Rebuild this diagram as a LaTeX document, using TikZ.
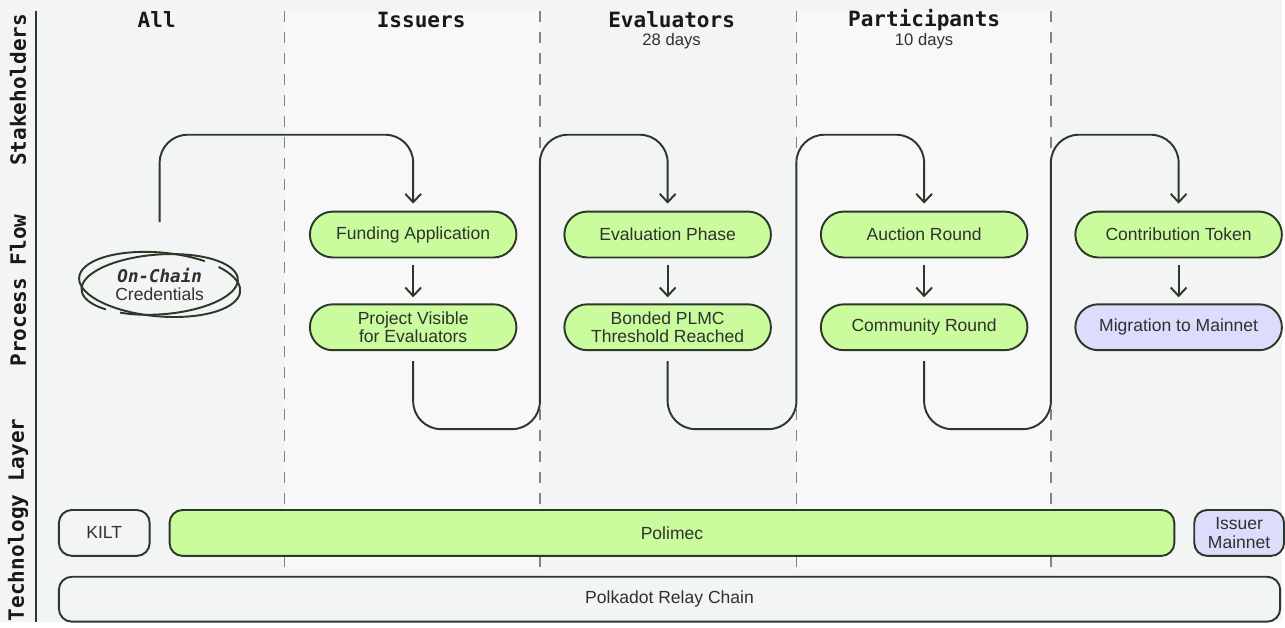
\documentclass[tikz,border=0pt]{standalone}
\usepackage{fontspec}
\setmainfont{Liberation Sans}
\setmonofont{DejaVu Sans Mono}
\usetikzlibrary{arrows.meta,positioning}

\definecolor{paper}{RGB}{243,244,244}
\definecolor{lane}{RGB}{248,248,248}
\definecolor{ink}{RGB}{44,56,40}
\definecolor{lime}{RGB}{202,252,158}
\definecolor{lilac}{RGB}{220,220,252}
\definecolor{rule}{RGB}{128,134,124}
\definecolor{word}{RGB}{46,50,45}

\tikzset{
  stage/.style={draw=ink,line width=1.1pt,fill=lime,rounded corners=0.46cm,
    minimum width=4.14cm,minimum height=0.92cm,align=center,text=word,
    font=\fontsize{10}{10.8}\selectfont},
  chain/.style={draw=ink,line width=1.1pt,rounded corners=0.26cm,
    minimum height=0.92cm,align=center,text=word,
    font=\fontsize{10}{10.8}\selectfont},
  flow/.style={ink,line width=1.1pt,rounded corners=0.56cm,
    -{Straight Barb[length=4.8pt,width=9pt]}},
  head/.style={text=black!90,font=\ttfamily\bfseries\fontsize{12}{14}\selectfont},
  sub/.style={text=word,font=\fontsize{9.5}{11}\selectfont},
  divider/.style={rule,line width=0.7pt,dash pattern=on 0.22cm off 0.2cm},
  ring/.style={ink,line width=1.1pt},
}

% bottom of one lane -> up the divider -> top of the next lane
\newcommand{\hop}[3]{%
  \draw[flow,shorten <=0.2cm,shorten >=0.14cm] (#1.south) -- (#1.south |- lo)
    -- (#2 |- lo) -- (#2 |- hi) -- (#3.north |- hi) -- (#3.north);}

\begin{document}
\begin{tikzpicture}[x=0.02cm,y=-0.02cm]
  % page, lanes and rules
  \fill[paper] (0,0) rectangle (1285,623);
  \fill[lane] (286,11) rectangle (541,570);
  \fill[lane] (798,11) rectangle (1053,570);
  \draw[ink,line width=0.9pt] (36,11) -- (36,623);
  \foreach \x/\n in {285/1,541/2,798/3,1053/4}{
    \coordinate (div\n) at (\x,0);
    \draw[divider] (\x,11) -- (\x,570);}
  \coordinate (hi) at (0,135);
  \coordinate (lo) at (0,430);

  % row captions
  \node[head,rotate=90] (row-s) at (18,90) {Stakeholders};
  \node[head,rotate=90] (row-p) at (18,291) {Process Flow};
  \node[head,rotate=90] (row-t) at (18,521) {Technology Layer};

  % lane heads
  \node[head] (h-all) at (157,20) {All};
  \node[head] (h-iss) at (422,20) {Issuers};
  \node[head] (h-eva) at (673,20) {Evaluators};
  \node[sub] (d-eva) at (673,41) {28 days};
  \node[head] (h-par) at (926,20) {Participants};
  \node[sub] (d-par) at (926,41) {10 days};

  % credentials rings
  \node[minimum width=3.2cm,minimum height=1.28cm,align=center,text=word,
    font=\fontsize{10}{10.8}\selectfont] (cred) at (160,285)
    {{\ttfamily\bfseries\itshape On-Chain}\\Credentials};
  \begin{scope}[shift={(cred.center)},rotate=-5]
    \draw[ring] (58:1.62cm and 0.64cm) arc[start angle=58,end angle=405,x radius=1.62cm,y radius=0.64cm];
  \end{scope}
  \begin{scope}[shift={(cred.center)},rotate=4]
    \draw[ring] (238:1.57cm and 0.6cm) arc[start angle=238,end angle=585,x radius=1.57cm,y radius=0.6cm];
  \end{scope}

  % process stages
  \node[stage] (fund) at (414,235) {Funding Application};
  \node[stage,below=0.9cm of fund] (visible) {Project Visible\\for Evaluators};
  \node[stage] (evalp) at (669,235) {Evaluation Phase};
  \node[stage,below=0.9cm of evalp] (bonded) {Bonded PLMC\\Threshold Reached};
  \node[stage] (auction) at (926,235) {Auction Round};
  \node[stage,below=0.9cm of auction] (community) {Community Round};
  \node[stage] (token) at (1181,235) {Contribution Token};
  \node[stage,fill=lilac,below=0.9cm of token] (migrate) {Migration to Mainnet};

  \foreach \a/\b in {fund/visible,evalp/bonded,auction/community,token/migrate}
    \draw[flow,shorten <=0.14cm,shorten >=0.12cm] (\a) -- (\b);

  \draw[flow,shorten <=0.6cm,shorten >=0.14cm] (cred.north) -- (cred.north |- hi)
    -- (fund.north |- hi) -- (fund.north);
  \hop{visible}{div2}{evalp}
  \hop{bonded}{div3}{auction}
  \hop{community}{div4}{token}

  % technology layer
  \node[chain,minimum width=1.82cm] (kilt) at (104.5,534) {KILT};
  \node[chain,fill=lime,minimum width=20.14cm,right=0.36cm of kilt] (polimec) {Polimec};
  \node[chain,fill=lilac,minimum width=1.8cm,right=0.36cm of polimec] (mainnet) {Issuer\\Mainnet};
  \node[chain,anchor=north west,minimum width=24.48cm,minimum height=0.9cm] (relay)
    at ([yshift=-0.38cm]kilt.south west) {Polkadot Relay Chain};
\end{tikzpicture}
\end{document}
